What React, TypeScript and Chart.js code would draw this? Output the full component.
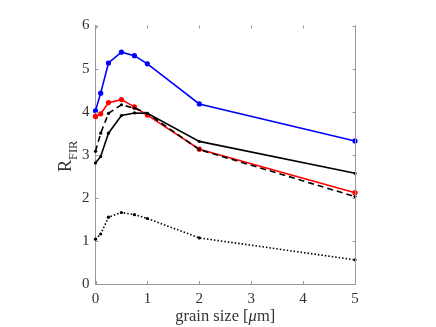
import React, { useEffect, useRef } from "react";
import { Chart, registerables } from "chart.js";

Chart.register(...registerables);

const grainSize = [0, 0.1, 0.25, 0.5, 0.75, 1, 2, 5];
const blueSeries = [4.02, 4.43, 5.13, 5.38, 5.30, 5.11, 4.18, 3.32];
const redSeries = [3.89, 3.95, 4.21, 4.28, 4.11, 3.92, 3.13, 2.12];
const blackSolid = [2.81, 2.96, 3.50, 3.91, 3.97, 3.96, 3.31, 2.57];
const blackDashed = [3.08, 3.50, 3.96, 4.16, 4.08, 3.96, 3.12, 2.03];
const blackDotted = [1.04, 1.16, 1.55, 1.66, 1.61, 1.52, 1.07, 0.56];
const xTicks = [0, 1, 2, 3, 4, 5];
const yTicks = [0, 1, 2, 3, 4, 5, 6];

const FONT = "'Liberation Serif', 'Times New Roman', serif";
const AXIS = "#999999";
const TEXT = "#333333";

const pts = (ys: number[]) => grainSize.map((x, i) => ({ x, y: ys[i] }));

const framePlugin = {
  id: "frame",
  afterDraw(chart: any) {
    const { ctx, chartArea } = chart;
    const xs = chart.scales.x;
    const ys = chart.scales.y;
    const L = 3;
    ctx.save();
    ctx.strokeStyle = AXIS;
    ctx.lineWidth = 1;
    ctx.beginPath();
    const r = Math.round(chartArea.right) + 0.5;
    ctx.moveTo(r, chartArea.top);
    ctx.lineTo(r, chartArea.bottom);
    xTicks.forEach((t) => {
      const px = Math.round(xs.getPixelForValue(t)) + 0.5;
      ctx.moveTo(px, chartArea.bottom);
      ctx.lineTo(px, chartArea.bottom - L);
      ctx.moveTo(px, chartArea.top);
      ctx.lineTo(px, chartArea.top + L);
    });
    yTicks.forEach((t) => {
      const py = Math.round(ys.getPixelForValue(t)) + 0.5;
      ctx.moveTo(chartArea.left, py);
      ctx.lineTo(chartArea.left + L, py);
      ctx.moveTo(r, py);
      ctx.lineTo(r - L, py);
    });
    ctx.stroke();

    // x title: "grain size [" + italic mu + "m]"
    ctx.fillStyle = TEXT;
    ctx.textBaseline = "alphabetic";
    ctx.textAlign = "left";
    const parts: [string, string][] = [
      ["grain size [", `16.5px ${FONT}`],
      ["\u03bc", `italic 16.5px ${FONT}`],
      ["m]", `16.5px ${FONT}`],
    ];
    let total = 0;
    parts.forEach(([t, f]) => {
      ctx.font = f;
      total += ctx.measureText(t).width;
    });
    let cx = (chartArea.left + chartArea.right) / 2 - total / 2;
    parts.forEach(([t, f]) => {
      ctx.font = f;
      ctx.fillText(t, cx, 321);
      cx += ctx.measureText(t).width;
    });

    // y title R_FIR
    ctx.translate(71, 172);
    ctx.rotate(-Math.PI / 2);
    ctx.font = `18px ${FONT}`;
    ctx.fillText("R", 0, 0);
    const w = ctx.measureText("R").width;
    ctx.font = `12.5px ${FONT}`;
    ctx.fillText("FIR", w, 6);
    ctx.restore();
  },
};

export default function App() {
  const ref = useRef<HTMLCanvasElement>(null);
  useEffect(() => {
    if (!ref.current) return;
    const line = (data: number[], color: string, radius: number, dash: number[] = []) => ({
      data: pts(data),
      borderColor: color,
      backgroundColor: color,
      borderWidth: 1.6,
      borderDash: dash,
      pointRadius: radius,
      pointBorderWidth: 0,
      pointBackgroundColor: color,
      tension: 0,
      clip: false as any,
    });
    const chart = new Chart(ref.current, {
      type: "line",
      data: {
        datasets: [
          line(blackDotted, "#000000", 1.6, [1.5, 2]),
          line(blackSolid, "#000000", 1.6),
          line(blackDashed, "#000000", 1.6, [6, 4]),
          line(redSeries, "#ff0000", 2.6),
          line(blueSeries, "#0000ff", 2.6),
        ],
      },
      options: {
        responsive: false,
        animation: false,
        devicePixelRatio: 1,
        layout: { padding: { left: 0, top: 25.5, right: 81, bottom: 0 } },
        plugins: { legend: { display: false }, tooltip: { enabled: false } },
        scales: {
          x: {
            type: "linear",
            min: 0,
            max: 5,
            afterBuildTicks: (s: any) => {
              s.ticks = xTicks.map((v) => ({ value: v }));
            },
            afterFit: (s: any) => {
              s.height = 43;
            },
            ticks: {
              color: TEXT,
              font: { family: FONT, size: 15 },
              padding: 6,
              maxRotation: 0,
            },
            grid: { display: false, drawTicks: false },
            border: { display: true, color: AXIS, width: 1 },
          },
          y: {
            type: "linear",
            min: 0,
            max: 6,
            afterBuildTicks: (s: any) => {
              s.ticks = yTicks.map((v) => ({ value: v }));
            },
            afterFit: (s: any) => {
              s.width = 95.5;
            },
            ticks: {
              color: TEXT,
              font: { family: FONT, size: 15 },
              padding: 6,
            },
            grid: { display: false, drawTicks: false },
            border: { display: true, color: AXIS, width: 1 },
          },
        },
      },
      plugins: [framePlugin],
    });
    return () => chart.destroy();
  }, []);
  return (
    <div style={{ position: "absolute", left: 0, top: 0, width: 436, height: 327, background: "#fff" }}>
      <canvas ref={ref} width={436} height={327} style={{ display: "block" }} />
    </div>
  );
}
